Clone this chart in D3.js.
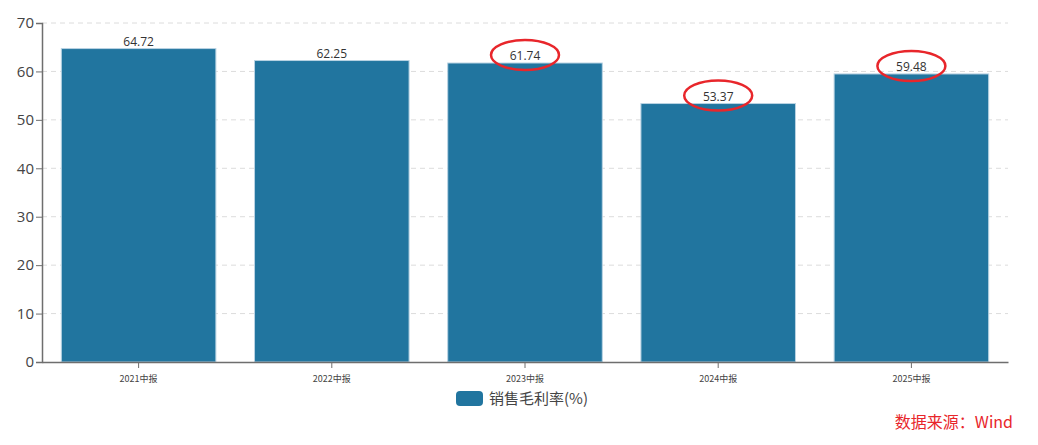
<!DOCTYPE html>
<html><head><meta charset="utf-8">
<script src="https://cdn.jsdelivr.net/npm/d3@7"></script>
<style>body{margin:0;background:#fff;font-family:"Open Sans","Noto Sans CJK SC",sans-serif;}</style>
</head><body><svg id="c" width="1038" height="445"></svg>
<script>
const categories = ["2021中报","2022中报","2023中报","2024中报","2025中报"];
const values = [64.72, 62.25, 61.74, 53.37, 59.48];
const yTicks = [0,10,20,30,40,50,60,70];
const highlighted = ["2023中报","2024中报","2025中报"];
const seriesName = "销售毛利率(%)";
const sourceText = "数据来源：Wind";

const svg = d3.select("#c");
const m = {l:42, r:1008, t:23, b:362};
const x = d3.scaleBand().domain(categories).range([m.l, m.r]).paddingInner(0.2).paddingOuter(0.1);
const y = d3.scaleLinear().domain([0,70]).range([m.b, m.t]);
const cjk = '"Noto Sans CJK SC",sans-serif';

// grid
svg.append("g").selectAll("line").data(yTicks.filter(d=>d>0)).join("line")
  .attr("x1", m.l).attr("x2", m.r).attr("y1", d=>y(d)).attr("y2", d=>y(d))
  .attr("stroke","#dcdcdc").attr("stroke-dasharray","5,4").attr("stroke-width",1);

// bars
svg.append("g").selectAll("rect").data(values).join("rect")
  .attr("x",(d,i)=>x(categories[i])).attr("width",x.bandwidth())
  .attr("y",d=>y(d)).attr("height",d=>y(0)-y(d))
  .attr("fill","#21759f").attr("stroke","#b9d3e3").attr("stroke-width",1);

// value labels
svg.append("g").selectAll("text").data(values).join("text")
  .attr("x",(d,i)=>x(categories[i])+x.bandwidth()/2).attr("y",d=>y(d)-3)
  .attr("text-anchor","middle").attr("font-size",12).attr("fill","#333")
  .attr("font-family",'"Open Sans",sans-serif')
  .text(d=>d.toFixed(2));

// highlight ellipses
svg.append("g").selectAll("ellipse").data(values.map((v,i)=>({v,c:categories[i]})).filter(d=>highlighted.includes(d.c))).join("ellipse")
  .attr("cx",d=>x(d.c)+x.bandwidth()/2).attr("cy",d=>y(d.v)-8)
  .attr("rx",34).attr("ry",15)
  .attr("fill","none").attr("stroke","#e8262b").attr("stroke-width",2.5);

// y axis
const ya = svg.append("g").attr("transform",`translate(${m.l},0)`)
  .call(d3.axisLeft(y).tickValues(yTicks).tickSize(6).tickPadding(2).tickFormat(d3.format("d")));
ya.select(".domain").attr("stroke","#6e6e6e").attr("stroke-width",1.5);
ya.selectAll(".tick line").attr("stroke","#6e6e6e");
ya.selectAll(".tick text").attr("font-size",15).attr("fill","#444").attr("font-family",'"Open Sans",sans-serif');

// x axis
const xa = svg.append("g").attr("transform",`translate(0,${m.b})`)
  .call(d3.axisBottom(x).tickSize(6).tickSizeOuter(0).tickPadding(8));
xa.select(".domain").attr("stroke","#6e6e6e").attr("stroke-width",1.5);
xa.selectAll(".tick line").attr("stroke","#6e6e6e");
xa.selectAll(".tick text").attr("font-size",9).attr("fill","#444").attr("font-family",cjk);

// legend
const lg = svg.append("g");
lg.append("rect").attr("x",456).attr("y",391).attr("width",27).attr("height",15).attr("rx",4).attr("fill","#21759f");
lg.append("text").attr("x",489).attr("y",404).attr("font-size",15).attr("fill","#444").attr("font-family",cjk).text(seriesName);

// source
svg.append("text").attr("x",1013).attr("y",428).attr("text-anchor","end").attr("font-size",16)
  .attr("fill","#e8262b").attr("font-family",cjk).text(sourceText);
</script></body></html>
